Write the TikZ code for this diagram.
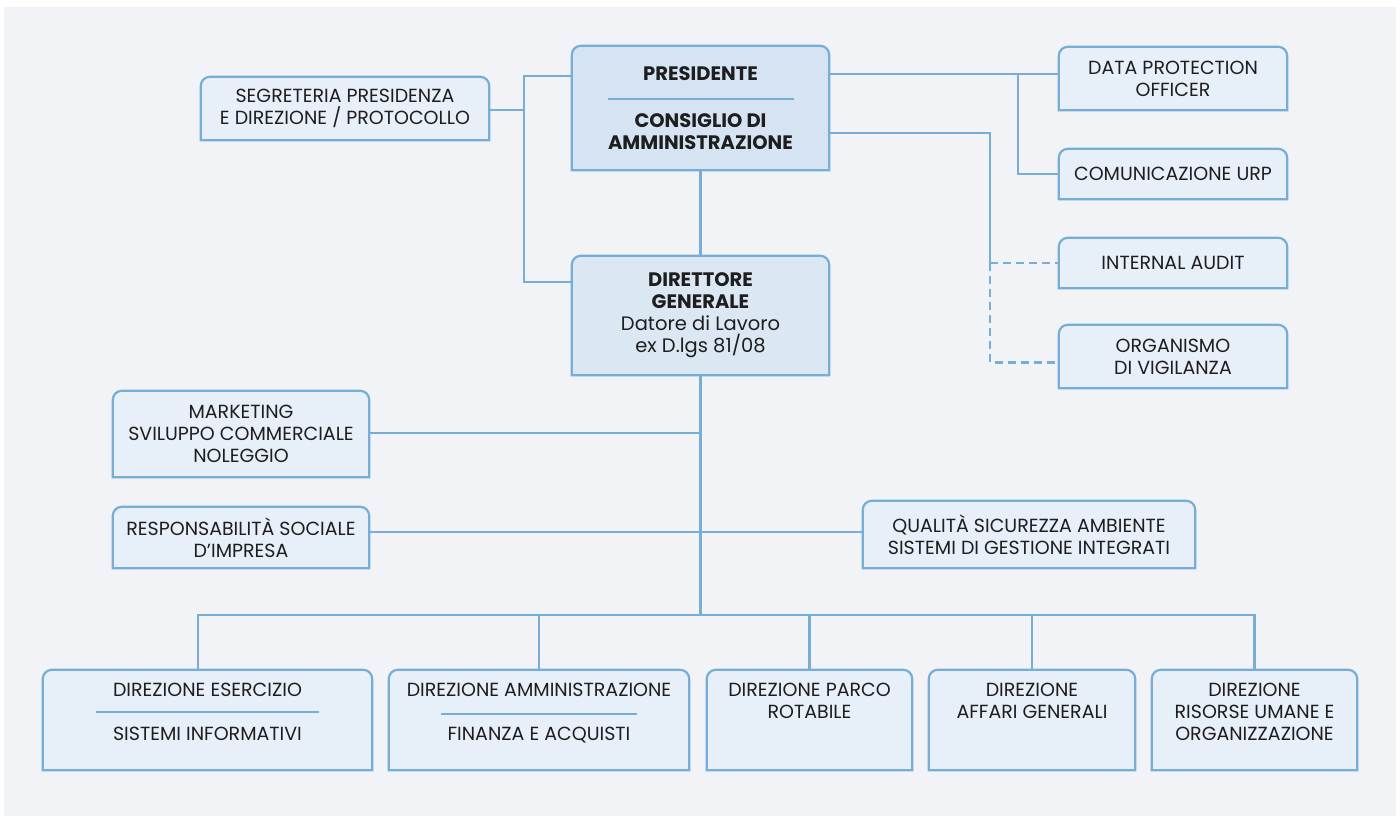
\documentclass[tikz,border=0pt]{standalone}
\usepackage{fontspec}
\setmainfont{Poppins}
\usetikzlibrary{positioning,calc,backgrounds}

\definecolor{bgrey}{HTML}{F1F3F7}
\definecolor{boxfill}{HTML}{E7EFF8}
\definecolor{presfill}{HTML}{D5E3F2}
\definecolor{dgfill}{HTML}{DCE7F4}
\definecolor{edge}{HTML}{76AED8}
\definecolor{ink}{HTML}{1E1E1E}

\tikzset{
  unit/.style={inner sep=0pt, align=center, text=ink, font=\fontsize{19}{22}\selectfont},
  head/.style={unit, font=\fontsize{19.5}{22}\selectfont\bfseries},
  dirbox/.style={unit, minimum height=100pt},
  conn/.style={draw=edge, line width=2.2pt},
  dashconn/.style={conn, dash pattern=on 8pt off 5pt},
  tabline/.style={draw=edge, line width=2.2pt},
}

\begin{document}
\begin{tikzpicture}[x=1pt, y=-1pt]
  \useasboundingbox (0,0) rectangle (1400,819);
  \begin{scope}[on background layer]
    \fill[white] (0,0) rectangle (1400,819);
    \fill[bgrey] (4,7) rectangle (1396,816);
  \end{scope}

  % vertice
  \node[head, minimum width=257pt, minimum height=124pt] (pres) at (700.5,108) {PRESIDENTE\\[25pt]CONSIGLIO DI\\AMMINISTRAZIONE};
  \node[head, minimum width=257pt, minimum height=119pt] (dg) at (700.5,315.5) {DIRETTORE\\GENERALE\\\mdseries Datore di Lavoro\\\mdseries ex D.lgs 81/08};
  \node[unit, minimum width=288pt, minimum height=63pt] (segr) at (345,108.5) {SEGRETERIA PRESIDENZA\\E DIREZIONE / PROTOCOLLO};

  % staff a destra
  \node[unit, minimum width=228pt, minimum height=63pt] (dpo) at (1173,78.5) {DATA PROTECTION\\OFFICER};
  \node[unit, minimum width=228pt, minimum height=50pt] (urp) at (1173,174) {COMUNICAZIONE URP};
  \node[unit, minimum width=228pt, minimum height=50pt] (audit) at (1173,263) {INTERNAL AUDIT};
  \node[unit, minimum width=228pt, minimum height=63pt] (odv) at (1173,356.5) {ORGANISMO\\DI VIGILANZA};

  % staff del direttore
  \node[unit, minimum width=256pt, minimum height=86pt] (mkt) at (241,434) {MARKETING\\SVILUPPO COMMERCIALE\\NOLEGGIO};
  \node[unit, minimum width=256pt, minimum height=61pt] (rsi) at (241,537.5) {RESPONSABILITÀ SOCIALE\\D’IMPRESA};
  \node[unit, minimum width=332pt, minimum height=67pt] (qsa) at (1029,534.5) {QUALITÀ SICUREZZA AMBIENTE\\SISTEMI DI GESTIONE INTEGRATI};

  % direzioni
  \node[dirbox, minimum width=329pt] (eserc) at (207.5,720) {};
  \node[dirbox, minimum width=300pt] (ammin) at (539,720) {};
  \node[dirbox, minimum width=205pt] (parco) at (809.5,720) {};
  \node[dirbox, minimum width=206pt] (affari) at (1032,720) {};
  \node[dirbox, minimum width=205pt] (risorse) at (1254.5,720) {};
  \node[unit, below=13pt of eserc.north] (eserc-t) {DIREZIONE ESERCIZIO\\[22pt]SISTEMI INFORMATIVI};
  \node[unit, below=13pt of ammin.north] (ammin-t) {DIREZIONE AMMINISTRAZIONE\\[22pt]FINANZA E ACQUISTI};
  \node[unit, below=13pt of parco.north] (parco-t) {DIREZIONE PARCO\\ROTABILE};
  \node[unit, below=13pt of affari.north] (affari-t) {DIREZIONE\\AFFARI GENERALI};
  \node[unit, below=13pt of risorse.north] (risorse-t) {DIREZIONE\\RISORSE UMANE E\\ORGANIZZAZIONE};

  \begin{scope}[on background layer]
    \foreach \n/\f in {pres/presfill, dg/dgfill, segr/boxfill, dpo/boxfill, urp/boxfill, audit/boxfill, odv/boxfill, mkt/boxfill, rsi/boxfill, qsa/boxfill, eserc/boxfill, ammin/boxfill, parco/boxfill, affari/boxfill, risorse/boxfill}
      \draw[tabline, fill=\f] (\n.south west) -- ($(\n.north west)+(0,9)$) arc[start angle=180, end angle=90, radius=9pt] -- ($(\n.north east)+(-9,0)$) arc[start angle=90, end angle=0, radius=9pt] -- (\n.south east) -- cycle;
  \end{scope}

  % separatori
  \draw[conn] ($(pres.north)+(-93,53)$) -- ++(186,0);
  \draw[conn] ($(eserc.north)+(-111.5,42)$) -- ++(223,0);
  \draw[conn] ($(ammin.north)+(-98,44)$) -- ++(196,0);

  % collegamenti in alto
  \coordinate (segj) at (524,110);
  \draw[conn] (segr.east |- segj) -- (segj);
  \draw[conn] ($(pres.north west)+(0,30)$) -| (segj) |- ($(dg.north west)+(0,26)$);
  \draw[conn] (pres) -- (dg);
  \coordinate (dpoj) at (1018,74);
  \draw[conn] (pres.east |- dpoj) -- (dpo.west |- dpoj);
  \draw[conn] (dpoj) |- (urp.west);
  \coordinate (audj) at (990,133);
  \draw[conn] (pres.east |- audj) -- (audj) -- (audj |- audit.west);
  \draw[dashconn] (audj |- audit.west) -- (audit.west);
  \draw[dashconn] (audj |- audit.west) |- ($(odv.west)+(0,6)$);

  % collegamenti in basso
  \coordinate (mktj) at (700,433);
  \coordinate (rsij) at (700,532);
  \coordinate (bus) at (700,615);
  \draw[conn] (dg.south) -- (dg.south |- bus);
  \draw[conn] (mkt.east |- mktj) -- (mktj);
  \draw[conn] (rsi.east |- rsij) -- (qsa.west |- rsij);
  \draw[conn] ($(eserc.north)+(-9.5,0)$) |- (risorse.north |- bus) -- (risorse.north);
  \foreach \n in {ammin, parco, affari}
    \draw[conn] (\n.north |- bus) -- (\n.north);
\end{tikzpicture}
\end{document}
